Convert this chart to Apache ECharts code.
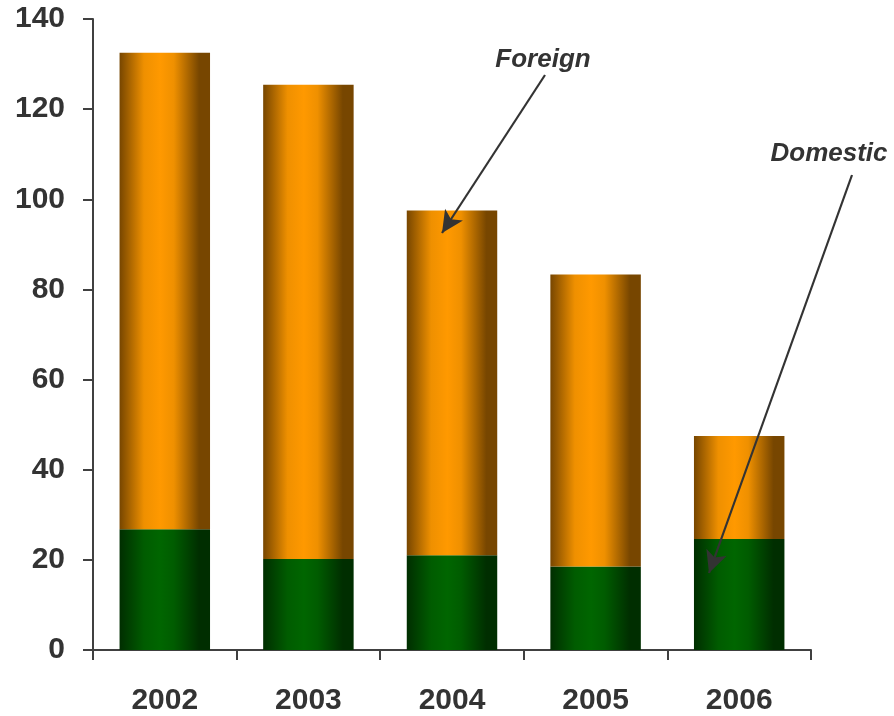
<!DOCTYPE html>
<html>
<head>
<meta charset="utf-8">
<script src="https://cdn.jsdelivr.net/npm/echarts@6/dist/echarts.min.js"></script>
<style>html,body{margin:0;padding:0;background:#fff;}#c{width:894px;height:716px;}</style>
</head>
<body>
<div id="c"></div>
<script>
const years = ['2002', '2003', '2004', '2005', '2006'];
const domestic = [26.8, 20.2, 21.0, 18.5, 24.6];
const foreign = [105.7, 105.2, 76.5, 64.8, 22.9];
const yTicks = { min: 0, max: 140, interval: 20 };

const chart = echarts.init(document.getElementById('c'));
function grad(dark, mid, bright) {
  return new echarts.graphic.LinearGradient(0, 0, 1, 0, [
    { offset: 0, color: dark },
    { offset: 0.27, color: mid },
    { offset: 0.45, color: bright },
    { offset: 0.6, color: mid },
    { offset: 0.88, color: dark },
    { offset: 1, color: dark }
  ]);
}
const font = '"Liberation Sans", Arial, sans-serif';
chart.setOption({
  animation: false,
  backgroundColor: '#fff',
  grid: { left: 93, right: 83, top: 19, bottom: 65 },
  xAxis: {
    type: 'category',
    data: years,
    axisLine: { lineStyle: { color: '#404040', width: 2 } },
    axisTick: { show: true, length: 10, lineStyle: { color: '#404040', width: 2 } },
    axisLabel: { color: '#333', fontSize: 30, fontWeight: 'bold', fontFamily: font, margin: 36 }
  },
  yAxis: {
    type: 'value',
    min: yTicks.min, max: yTicks.max, interval: yTicks.interval,
    splitLine: { show: false },
    axisLine: { show: true, lineStyle: { color: '#404040', width: 2 } },
    axisTick: { show: true, length: 10, lineStyle: { color: '#404040', width: 2 } },
    axisLabel: { color: '#333', fontSize: 30, fontWeight: 'bold', fontFamily: font, margin: 28 }
  },
  series: [
    {
      name: 'Domestic', type: 'bar', stack: 'total', barWidth: '63%',
      data: domestic,
      itemStyle: { color: grad('#002e00', '#005c00', '#006600') }
    },
    {
      name: 'Foreign', type: 'bar', stack: 'total', barWidth: '63%',
      data: foreign,
      itemStyle: { color: grad('#774600', '#ef9000', '#ff9900') },
      markLine: {
        silent: true,
        symbol: ['none', 'arrow'],
        symbolSize: [16, 22],
        label: { show: false },
        lineStyle: { color: '#333', width: 2.2, type: 'solid' },
        data: [
          [{ x: 545, y: 75 }, { x: 442, y: 233 }],
          [{ x: 852, y: 175 }, { x: 709, y: 573 }]
        ]
      }
    }
  ],
  graphic: [
    { type: 'text', x: 543, y: 60, style: { text: 'Foreign', fill: '#333', font: 'italic bold 26px ' + font, textAlign: 'center', textVerticalAlign: 'middle' } },
    { type: 'text', x: 829, y: 154, style: { text: 'Domestic', fill: '#333', font: 'italic bold 26px ' + font, textAlign: 'center', textVerticalAlign: 'middle' } }
  ]
});
</script>
</body>
</html>
